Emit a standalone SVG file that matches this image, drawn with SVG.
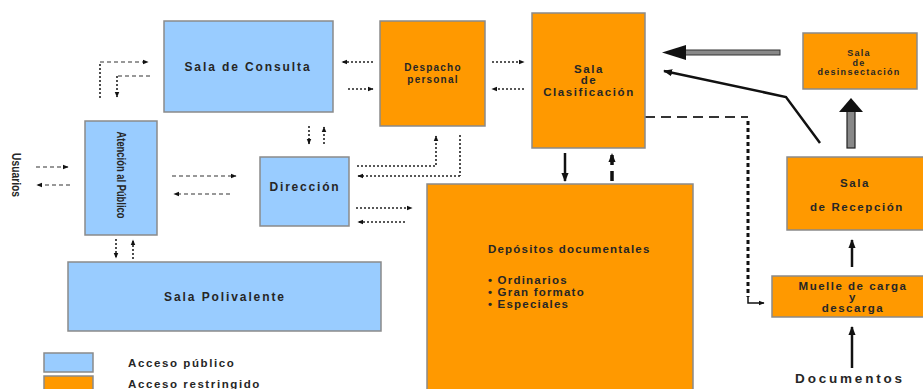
<svg xmlns="http://www.w3.org/2000/svg" width="923" height="389" viewBox="0 0 923 389">
<defs>
<style>
.pub{fill:#99CCFF;stroke:#8a8a8a;stroke-width:1.5}
.res{fill:#FF9900;stroke:#8a8a8a;stroke-width:1.5}
.t{font-family:"Liberation Sans",Arial,sans-serif;fill:#262626;font-weight:bold;text-anchor:middle}
.dot{fill:none;stroke:#222;stroke-width:1.6;stroke-dasharray:2 2}
.dash{fill:none;stroke:#333;stroke-width:1.2;stroke-dasharray:4 3}
.solid{fill:none;stroke:#111;stroke-width:2.5}
</style>
<marker id="ah" viewBox="0 0 10 10" refX="9" refY="5" markerWidth="6" markerHeight="6" orient="auto" markerUnits="userSpaceOnUse">
<path d="M0,1 L10,5 L0,9 Z" fill="#111"/>
</marker>
<marker id="ah2" viewBox="0 0 10 10" refX="9" refY="5" markerWidth="9" markerHeight="9" orient="auto" markerUnits="userSpaceOnUse">
<path d="M0,1 L10,5 L0,9 Z" fill="#111"/>
</marker>
</defs>

<g id="connectors">
<line class="dash" x1="36" y1="167" x2="68" y2="167" marker-end="url(#ah)"/>
<line class="dash" x1="70" y1="185" x2="37" y2="185" marker-end="url(#ah)"/>
<line class="dash" x1="172" y1="176" x2="236" y2="176" marker-end="url(#ah)"/>
<line class="dash" x1="230" y1="194" x2="174" y2="194" marker-end="url(#ah)"/>
<line class="dot" x1="116" y1="239" x2="116" y2="258" stroke-width="1.2" marker-end="url(#ah)"/>
<line class="dot" x1="133" y1="259" x2="133" y2="240" stroke-width="1.2" marker-end="url(#ah)"/>
<polyline class="dot" points="100,98 100,62" stroke-width="1.2"/>
<polyline class="dash" points="100,62 148,62" marker-end="url(#ah)"/>
<polyline class="dash" points="150,76 117,76" stroke="#999"/>
<polyline class="dot" points="117,76 117,97" stroke-width="1.4" marker-end="url(#ah)"/>
<line class="dot" x1="309" y1="126" x2="309" y2="144" stroke-width="2" marker-end="url(#ah)"/>
<line class="dot" x1="324" y1="144" x2="324" y2="127" stroke-width="2" marker-end="url(#ah)"/>
<line class="dot" x1="373" y1="62" x2="342" y2="62" marker-end="url(#ah)"/>
<line class="dot" x1="348" y1="89" x2="373" y2="89" marker-end="url(#ah)"/>
<line class="dot" x1="492" y1="62" x2="524" y2="62" marker-end="url(#ah)"/>
<line class="dot" x1="524" y1="89" x2="492" y2="89" marker-end="url(#ah)"/>
<polyline class="dot" points="357,166 436,166 436,136" stroke-width="1.4" marker-end="url(#ah)"/>
<polyline class="dot" points="460,135 460,176" stroke-width="2.4" stroke-dasharray="1 1"/>
<polyline class="dot" points="460,176 358,176" stroke-width="1.6" marker-end="url(#ah)"/>
<line class="dot" x1="356" y1="208" x2="412" y2="208" marker-end="url(#ah)"/>
<line class="dot" x1="405" y1="222" x2="358" y2="222" marker-end="url(#ah)"/>
<line class="solid" x1="565" y1="153" x2="565" y2="181" stroke-width="3" marker-end="url(#ah2)"/>
<line x1="612" y1="181" x2="612" y2="154" stroke="#111" stroke-width="3.5" stroke-dasharray="10 6" marker-end="url(#ah2)"/>
<polyline points="645,117 748,117" fill="none" stroke="#333" stroke-width="2" stroke-dasharray="10 6"/>
<polyline points="748,121 748,297" fill="none" stroke="#111" stroke-width="3" stroke-dasharray="4 3"/>
<polyline points="748,297 748,303 764,303" fill="none" stroke="#111" stroke-width="1.5" marker-end="url(#ah)"/>
<rect x="684" y="50" width="96" height="5" fill="#888" stroke="#333" stroke-width="1"/>
<path d="M662,52.5 L686,45 L686,60 Z" fill="#111"/>
<polyline class="solid" points="820,143 786,97 664,71" stroke-width="2" marker-end="url(#ah2)"/>
<rect x="847" y="111" width="8" height="37" fill="#888" stroke="#222" stroke-width="1.2"/>
<path d="M851,98 L863,112 L839,112 Z" fill="#111"/>
<line class="solid" x1="852" y1="267" x2="852" y2="240" stroke-width="3" marker-end="url(#ah2)"/>
<line class="solid" x1="852" y1="368" x2="852" y2="327" stroke-width="3" marker-end="url(#ah2)"/>
</g>

<g id="sala-consulta">
<rect class="pub" x="164" y="21" width="169" height="91"/>
<text class="t" x="248" y="71" font-size="12" letter-spacing="1.9">Sala de Consulta</text>
</g>

<g id="despacho-personal">
<rect class="res" x="380" y="21" width="105" height="105"/>
<text class="t" x="433" y="71" font-size="10" font-weight="normal" letter-spacing="1.2">Despacho</text>
<text class="t" x="433" y="82.5" font-size="10" font-weight="normal" letter-spacing="1.2">personal</text>
</g>

<g id="sala-clasificacion">
<rect class="res" x="532" y="13" width="113" height="135"/>
<text class="t" x="589" y="73" font-size="11.5" letter-spacing="1.6">Sala</text>
<text class="t" x="589" y="84" font-size="11.5" letter-spacing="1.6">de</text>
<text class="t" x="589" y="96" font-size="11.5" letter-spacing="1.6">Clasificación</text>
</g>

<g id="sala-desinsectacion">
<rect class="res" x="803" y="33" width="114" height="56"/>
<text class="t" x="859" y="56" font-size="9" font-weight="normal" letter-spacing="1.3">Sala</text>
<text class="t" x="859" y="65.5" font-size="9" font-weight="normal" letter-spacing="1.3">de</text>
<text class="t" x="859" y="75" font-size="9" font-weight="normal" letter-spacing="1.3">desinsectación</text>
</g>

<g id="atencion-publico">
<rect class="pub" x="85" y="121" width="72" height="114"/>
<text class="t" transform="translate(117,175) rotate(90)" font-size="12" textLength="87" lengthAdjust="spacingAndGlyphs">Atención al Público</text>
</g>

<g id="usuarios">
<text class="t" transform="translate(12,175) rotate(90)" font-size="12" fill="#111" textLength="44" lengthAdjust="spacingAndGlyphs">Usuarios</text>
</g>

<g id="direccion">
<rect class="pub" x="260" y="157" width="89" height="69"/>
<text class="t" x="305" y="191" font-size="12" letter-spacing="1.8">Dirección</text>
</g>

<g id="depositos">
<rect class="res" x="427" y="184" width="266" height="210"/>
<text class="t" x="488" y="253" font-size="11.5" letter-spacing="1.2" style="text-anchor:start">Depósitos documentales</text>
<text class="t" x="488" y="284" font-size="11.5" letter-spacing="1.2" style="text-anchor:start">• Ordinarios</text>
<text class="t" x="488" y="296" font-size="11.5" letter-spacing="1.2" style="text-anchor:start">• Gran formato</text>
<text class="t" x="488" y="308" font-size="11.5" letter-spacing="1.2" style="text-anchor:start">• Especiales</text>
</g>

<g id="sala-recepcion">
<rect class="res" x="787" y="157" width="140" height="73"/>
<text class="t" x="855" y="187" font-size="11.5" letter-spacing="1.6">Sala</text>
<text class="t" x="857" y="211" font-size="11.5" letter-spacing="1.6">de Recepción</text>
</g>

<g id="muelle">
<rect class="res" x="772" y="276" width="155" height="41"/>
<text class="t" x="853" y="290" font-size="11.5" letter-spacing="1.5">Muelle de carga</text>
<text class="t" x="853" y="301" font-size="11.5" letter-spacing="1.5">y</text>
<text class="t" x="853" y="312" font-size="11.5" letter-spacing="1.5">descarga</text>
</g>

<g id="documentos">
<text class="t" x="850" y="383" font-size="13.5" fill="#111" letter-spacing="2.8">Documentos</text>
</g>

<g id="sala-polivalente">
<rect class="pub" x="68" y="262" width="313" height="69"/>
<text class="t" x="225" y="301" font-size="12" letter-spacing="1.9">Sala Polivalente</text>
</g>

<g id="legend">
<rect class="pub" x="44" y="353" width="49" height="19"/>
<rect class="res" x="44" y="376" width="49" height="20"/>
<text class="t" x="128" y="367" font-size="11.5" font-weight="normal" letter-spacing="1.6" style="text-anchor:start">Acceso público</text>
<text class="t" x="128" y="388" font-size="11.5" font-weight="normal" letter-spacing="1.6" style="text-anchor:start">Acceso restringido</text>
</g>
</svg>
